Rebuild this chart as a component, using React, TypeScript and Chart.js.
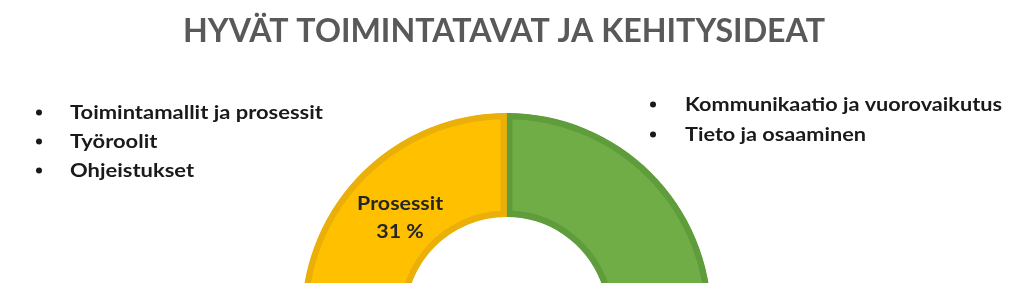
import React, { useEffect, useRef } from "react";
import { Chart, registerables } from "chart.js";

Chart.register(...registerables);

const TITLE = "HYVÄT TOIMINTATAVAT JA KEHITYSIDEAT";
const categories = ["Ihmiset", "Prosessit"];
const values = [69, 31];
const fillColors = ["#70AD47", "#FFC000"];
const borderColors = ["#5F9C3B", "#EAAF08"];
const leftBullets = ["Toimintamallit ja prosessit", "Työroolit", "Ohjeistukset"];
const rightBullets = ["Kommunikaatio ja vuorovaikutus", "Tieto ja osaaminen"];
const labelledIndex = 1;

const FONT = "Lato, 'Open Sans', sans-serif";

function drawScaled(ctx: CanvasRenderingContext2D, text: string, x: number, y: number, sx: number, align: CanvasTextAlign) {
  ctx.save();
  ctx.translate(x, y);
  ctx.scale(sx, 1);
  ctx.textAlign = align;
  ctx.textBaseline = "alphabetic";
  ctx.fillText(text, 0, 0);
  ctx.restore();
}

function drawBulletBlock(
  ctx: CanvasRenderingContext2D,
  items: string[],
  textX: number,
  bulletX: number,
  firstBaseline: number,
  lineGap: number,
  longestWidth: number
) {
  ctx.save();
  ctx.font = `bold 19px ${FONT}`;
  ctx.fillStyle = "#1a1a1a";
  let longest = 0;
  items.forEach((t) => {
    longest = Math.max(longest, ctx.measureText(t).width);
  });
  const sx = longestWidth / longest;
  items.forEach((t, i) => {
    const by = firstBaseline + i * lineGap;
    drawScaled(ctx, t, textX, by, sx, "left");
    ctx.beginPath();
    ctx.arc(bulletX, by - 6.5, 3, 0, Math.PI * 2);
    ctx.fill();
  });
  ctx.restore();
}

const overlayPlugin = {
  id: "overlayText",
  afterDraw(chart: any) {
    const ctx: CanvasRenderingContext2D = chart.ctx;
    // Title
    ctx.save();
    ctx.font = `bold 33px ${FONT}`;
    ctx.fillStyle = "#595959";
    const tw = ctx.measureText(TITLE).width;
    drawScaled(ctx, TITLE, 183, 42, 642 / tw, "left");
    ctx.restore();

    drawBulletBlock(ctx, leftBullets, 70, 39, 119, 29, 253);
    drawBulletBlock(ctx, rightBullets, 685, 653, 111, 30, 317);

    // Data label on the labelled arc
    const meta = chart.getDatasetMeta(0);
    const arc = meta.data[labelledIndex] as any;
    if (!arc) return;
    const p = arc.getProps(["x", "y", "startAngle", "endAngle", "innerRadius", "outerRadius"], true);
    const ang = p.startAngle + 0.58 * (p.endAngle - p.startAngle);
    const rad = p.innerRadius + 0.43 * (p.outerRadius - p.innerRadius);
    const cx = p.x + rad * Math.cos(ang);
    const cy = p.y + rad * Math.sin(ang);
    const total = values.reduce((a, b) => a + b, 0);
    const pct = Math.round((values[labelledIndex] / total) * 100) + " %";
    ctx.save();
    ctx.font = `bold 19px ${FONT}`;
    ctx.fillStyle = "#262626";
    const lw = ctx.measureText(categories[labelledIndex]).width;
    const sx = 86 / lw;
    drawScaled(ctx, categories[labelledIndex], cx, cy - 8, sx, "center");
    drawScaled(ctx, pct, cx, cy + 20, sx, "center");
    ctx.restore();
  },
};

export default function App() {
  const canvasRef = useRef<HTMLCanvasElement | null>(null);

  useEffect(() => {
    document.body.style.margin = "0";
    const canvas = canvasRef.current;
    if (!canvas) return;
    const chart = new Chart(canvas, {
      type: "doughnut",
      data: {
        labels: categories,
        datasets: [
          {
            data: values,
            backgroundColor: fillColors,
            borderColor: borderColors,
            borderWidth: 6,
            borderAlign: "inner",
          } as any,
        ],
      },
      options: {
        animation: false,
        responsive: false,
        maintainAspectRatio: false,
        radius: 205,
        cutout: "49.3%",
        layout: { padding: { left: 0, right: 9, top: 0, bottom: 4 } },
        plugins: {
          legend: { display: false },
          tooltip: { enabled: false },
          title: { display: false },
        },
        events: [],
      } as any,
      plugins: [overlayPlugin],
    });
    return () => chart.destroy();
  }, []);

  return (
    <div
      style={{
        position: "fixed",
        left: 0,
        top: 0,
        width: 1022,
        height: 283,
        overflow: "hidden",
        background: "#ffffff",
      }}
    >
      <canvas ref={canvasRef} width={1022} height={640} style={{ width: 1022, height: 640, display: "block" }} />
    </div>
  );
}
